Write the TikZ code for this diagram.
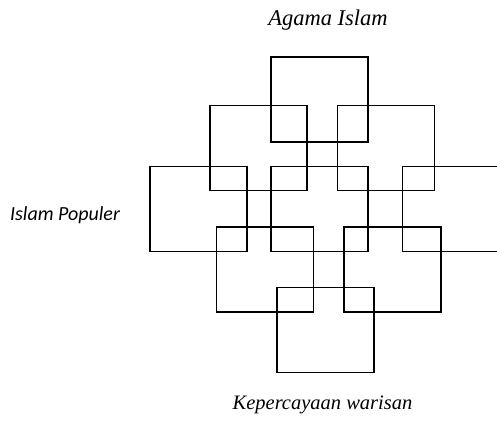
\documentclass[tikz,border=0pt]{standalone}
\usepackage{fontspec}
\setmainfont{Liberation Serif}
\newfontfamily\popfont{Carlito}
\usepackage{tikz}
\usetikzlibrary{positioning}

\begin{document}
\begin{tikzpicture}[x=1pt, y=-1pt]
	\tikzset{sq/.style={draw=black, line width=1.1pt, minimum width=97pt, minimum height=85pt, inner sep=0pt}}
	\tikzset{lbl/.style={font=\fontsize{21}{24}\selectfont\itshape, inner sep=0pt}}
		\useasboundingbox (0,0) rectangle (497,423);
		\foreach \name/\x/\y in {top/319.5/99.5, ul/258.5/148.3, ur/386/148.3, ml/198.5/209, mc/319.5/209, mr/451/209, ll/265/269.5, lr/392.5/269.5, bot/325.5/330.2}
		{\node[sq] (\name) at (\x,\y) {};}
		% labels
		\node[lbl, font=\fontsize{22.5}{26}\selectfont\itshape] (agama) at (328,20) {Agama Islam};
		\node[lbl, font=\fontsize{20}{24}\selectfont\popfont\itshape] (populer) at (65,215) {Islam Populer};
		\node[lbl, font=\fontsize{20.5}{24}\selectfont\itshape] (warisan) at (322.5,405) {Kepercayaan warisan};
\end{tikzpicture}
\end{document}
